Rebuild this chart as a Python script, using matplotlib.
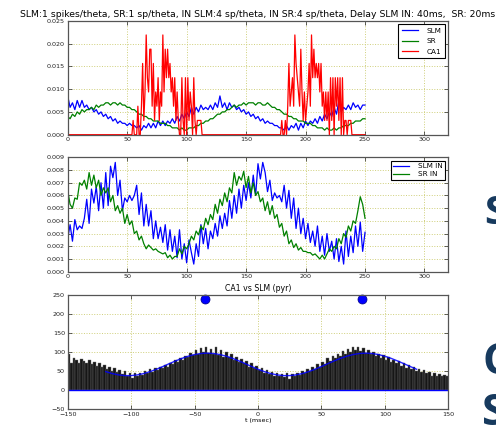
import numpy as np
import matplotlib
matplotlib.use('Agg')
import matplotlib.pyplot as plt

# --- dados (amostras a cada 2 ms, valores em unidades de 0.001) ---
t_top = np.arange(0, 251, 2)

slm = [8.5, 6, 7, 5.5, 7.5, 6, 7.5, 6, 6.5, 5.5,
       6, 5, 5.5, 4.5, 5, 4, 4.5, 3.5, 4, 3,
       3.5, 2.5, 3, 2.5, 2.5, 2, 2.5, 2, 2, 1.5,
       2, 1, 2, 1.5, 2.5, 1.5, 2.5, 1.5, 3, 2,
       3, 2, 3, 2.5, 3.5, 2.5, 4, 3, 4.5, 3.5,
       5, 4, 6, 4.5, 6, 5, 6.5, 5.5, 6, 5.5,
       6.5, 5.5, 7, 6, 8.5, 6, 7, 5.5, 7, 6,
       6.5, 5.5, 6, 5, 5.5, 4.5, 5, 4, 4.5, 3.5,
       4, 3, 3.5, 2.5, 3, 2.5, 2.5, 2, 2, 1.5,
       1.5, 1, 2, 1, 2, 1.5, 2.5, 1, 2.5, 1.5,
       3, 2, 3, 2.5, 3.5, 2.5, 4, 3, 4.5, 3.5,
       5, 4, 6, 4.5, 7.5, 5, 6, 5.5, 6.5, 5.5,
       7, 6, 6.5, 5.5, 6.5, 6.5]

sr = [4, 3.5, 4.5, 4, 5, 4.5, 5.5, 5, 5.5, 5.5,
      6, 5.5, 6.5, 6, 6.5, 6.5, 7, 7, 6.5, 7,
      7, 6.5, 7, 6.5, 6.5, 6, 6, 5.5, 5.5, 5,
      4.5, 4.5, 4, 4, 3.5, 3.5, 3, 3, 3, 2.5,
      2.5, 2.5, 2, 2, 1.5, 1.5, 1.5, 1, 1.5, 1,
      1, 1.5, 1.5, 1.5, 2, 2, 2.5, 2.5, 3, 3,
      3.5, 3.5, 4, 4.5, 4.5, 5, 5, 5.5, 5.5, 6,
      6.5, 6, 6.5, 6.5, 7, 6.5, 7, 7, 7, 6.5,
      7, 7, 6.5, 6.5, 7, 6.5, 6, 6, 5.5, 5.5,
      5, 4.5, 4.5, 4, 4, 3.5, 3.5, 3, 3, 3,
      2.5, 2.5, 2.5, 2, 2, 1.5, 1.5, 1.5, 1, 1.5,
      1, 1, 1.5, 1, 1.5, 1.5, 2, 2, 2, 2.5,
      2.5, 3, 3, 3, 3.5, 3.5]

# CA1: contagem por ms (valor = contagem / 320)
t_ca1 = np.arange(0, 251)
ca1_counts = [0, 0, 0, 0, 0, 0, 0, 0, 0, 0, 0, 0, 0, 0, 0, 0, 0, 0, 0, 0, 0, 0, 0, 0, 0,
              0, 0, 0, 0, 0, 0, 0, 0, 0, 0, 0, 0, 0, 0, 0, 0, 0, 0, 0, 0, 0, 0, 0, 0, 0,
              0, 0, 0, 0, 0, 1, 0, 0, 0, 2, 0, 0, 2, 5, 1, 3, 7, 4, 3, 6, 6, 2, 5, 1, 3,
              2, 4, 1, 3, 2, 7, 3, 6, 4, 6, 4, 5, 3, 4, 2, 4, 1, 3, 1, 0, 0, 4, 1, 0, 4,
              0, 4, 1, 3, 2, 0, 4, 1, 0, 1, 1, 1, 1, 0, 0, 0, 0, 0, 0, 0, 0, 0, 0, 0, 0,
              0, 0, 0, 0, 0, 0, 0, 0, 0, 0, 0, 0, 0, 0, 0, 0, 0, 0, 0, 0, 0, 0, 0, 0, 0,
              0, 0, 0, 0, 0, 0, 0, 0, 0, 0, 0, 0, 0, 0, 0, 0, 0, 0, 0, 0, 0, 0, 0, 0, 0,
              0, 0, 0, 0, 0, 1, 0, 0, 1, 0, 2, 5, 2, 3, 4, 2, 7, 5, 4, 3, 2, 6, 3, 1, 3,
              1, 2, 3, 5, 2, 7, 4, 6, 4, 5, 4, 5, 3, 5, 2, 3, 1, 3, 1, 3, 0, 4, 1, 4, 0,
              4, 2, 4, 1, 4, 0, 4, 0, 1, 1, 0, 1, 1, 1, 0, 0, 0, 0, 0, 0, 0, 0, 0, 0, 0,
              0]

slm_in = [2.6, 3.7, 2.4, 4.1, 3.3, 3.6, 3.4, 4.2, 5.7, 3.8,
          6.5, 5.4, 6.7, 4.8, 7.0, 5.0, 7.8, 5.2, 8.3, 7.4,
          8.6, 6.0, 7.2, 4.8, 5.8, 5.5, 6.0, 5.6, 6.0, 6.8,
          4.5, 6.2, 3.6, 5.3, 3.6, 4.8, 2.6, 4.0, 2.6, 3.5,
          2.3, 3.7, 1.7, 3.3, 1.6, 2.8, 1.1, 3.3, 1.0, 2.2,
          0.7, 2.5, 1.5, 0.6, 2.2, 1.2, 3.7, 2.2, 3.4, 1.8,
          3.2, 2.6, 3.8, 2.8, 4.4, 3.4, 4.6, 3.6, 5.6, 4.2,
          6.0, 4.6, 6.5, 5.0, 6.8, 5.6, 7.0, 5.8, 7.6, 6.0,
          8.5, 7.3, 8.6, 7.8, 6.3, 7.2, 5.6, 6.2, 5.8, 6.0,
          5.5, 6.8, 5.0, 6.4, 4.2, 5.8, 3.4, 5.0, 3.0, 4.2,
          2.6, 3.8, 2.3, 3.2, 2.0, 3.6, 1.6, 2.8, 1.3, 3.0,
          1.6, 2.4, 1.0, 2.6, 0.8, 2.0, 0.6, 3.2, 1.2, 2.8,
          1.5, 3.6, 2.0, 3.9, 1.6, 3.1]

sr_in = [6.4, 5.3, 5.0, 5.8, 5.7, 7.0, 6.8, 7.2, 6.5, 7.8,
         6.8, 7.6, 6.6, 7.2, 6.0, 6.6, 6.2, 6.6, 5.5, 6.0,
         4.8, 5.2, 4.6, 5.0, 3.8, 4.5, 3.7, 4.0, 3.0, 3.2,
         2.5, 2.8, 2.2, 1.8, 2.1, 1.9, 1.7, 1.8, 1.6, 1.5,
         1.4, 1.5, 1.1, 1.3, 1.0, 1.2, 1.2, 1.8, 1.4, 2.0,
         1.8, 2.2, 2.8, 2.5, 3.2, 2.9, 3.6, 3.3, 4.2, 3.7,
         4.5, 4.1, 5.3, 4.6, 5.7, 5.2, 6.2, 5.5, 6.6, 6.2,
         7.8, 6.8, 7.5, 7.2, 7.9, 6.6, 7.5, 6.2, 7.0, 6.0,
         6.3, 5.5, 5.8, 4.8, 5.5, 4.5, 5.2, 4.2, 4.5, 3.5,
         3.8, 2.8, 3.2, 2.2, 2.5, 1.9, 2.2, 1.7, 1.9, 1.6,
         1.6, 1.5, 1.5, 1.3, 1.4, 1.2, 1.0, 1.3, 1.0, 1.4,
         1.8, 1.6, 2.0, 1.8, 2.6, 2.2, 3.0, 2.7, 3.6, 3.2,
         4.0, 3.8, 4.8, 5.9, 5.3, 4.2]

# correlograma CA1 vs SLM (bins de 2 ms)
hist_t = np.arange(-149, 150, 2)
hist_counts = [95, 70, 85, 80, 72, 82, 76, 70, 80, 68,
               75, 64, 72, 60, 66, 55, 62, 50, 58, 48,
               52, 42, 50, 38, 45, 32, 44, 36, 46, 40,
               50, 44, 55, 48, 58, 52, 62, 58, 66, 62,
               72, 68, 80, 74, 85, 80, 90, 86, 98, 92,
               104, 96, 110, 100, 112, 98, 108, 96, 114, 92,
               104, 88, 100, 86, 94, 80, 88, 74, 82, 70,
               76, 62, 70, 58, 64, 52, 58, 46, 52, 42,
               48, 38, 44, 36, 42, 34, 44, 30, 42, 36,
               46, 40, 50, 44, 56, 50, 62, 56, 68, 62,
               74, 68, 84, 76, 90, 84, 96, 90, 102, 94,
               108, 100, 112, 104, 114, 102, 110, 98, 106, 94,
               100, 90, 96, 84, 92, 80, 86, 74, 80, 70,
               76, 64, 70, 58, 66, 56, 60, 50, 56, 48,
               52, 44, 48, 38, 44, 36, 42, 38, 40, 36]

fit_t = np.arange(-120, 126, 5)
fit_v = [48.7, 43.6, 40.1, 38.2, 38.2, 40.1, 43.6, 48.7, 54.9, 62.0,
         69.4, 76.6, 83.3, 89.0, 93.3, 96.1, 97.0, 96.1, 93.3, 89.0,
         83.3, 76.6, 69.4, 62.0, 54.9, 48.7, 43.6, 40.1, 38.2, 38.2,
         40.1, 43.6, 48.7, 54.9, 62.0, 69.4, 76.6, 83.3, 89.0, 93.3,
         96.1, 97.0, 96.1, 93.3, 89.0, 83.3, 76.6, 69.4, 62.0, 54.9]

pico_t = [-42, 82]
pico_y = [240, 240]

titulo = ('SLM:1 spikes/theta, SR:1 sp/theta, IN SLM:4 sp/theta, '
          'IN SR:4 sp/theta, Delay SLM IN: 40ms,  SR: 20ms')

# --- figura ---
fig = plt.figure(figsize=(4.96, 4.26), dpi=100)
fig.patch.set_facecolor('white')

GRID = dict(color='#cfcf7a', linestyle=':', linewidth=0.7)


def estilo(ax):
    ax.grid(True, **GRID)
    ax.set_axisbelow(True)
    ax.tick_params(direction='in', top=True, right=True, labelsize=4.6,
                   length=3, width=0.5, colors='#222222', pad=2)
    for s in ax.spines.values():
        s.set_color('#555555')
        s.set_linewidth(0.9)


ax1 = fig.add_axes([0.1365, 0.6838, 0.7673, 0.2676])
ax1.plot(t_top, np.array(slm) / 1000, color='blue', lw=0.9, label='SLM')
ax1.plot(t_top, np.array(sr) / 1000, color='green', lw=0.9, label='SR')
ax1.plot(t_ca1, np.array(ca1_counts) / 320, color='red', lw=0.9, label='CA1')
ax1.set_xlim(0, 320)
ax1.set_ylim(0, 0.025)
ax1.set_xticks(np.arange(0, 301, 50))
ax1.set_yticks(np.arange(0, 0.0251, 0.005))
ax1.yaxis.set_major_formatter(plt.FormatStrFormatter('%.3f'))
estilo(ax1)
ax1.set_title(titulo, fontsize=6.7, pad=3, x=0.5)
leg = ax1.legend(loc='upper right', fontsize=5.2, fancybox=False,
                 edgecolor='black', handlelength=2.2, borderpad=0.5,
                 labelspacing=0.6, handletextpad=1.2, framealpha=1)
leg.get_frame().set_linewidth(0.8)

ax2 = fig.add_axes([0.1365, 0.3622, 0.7673, 0.2685])
ax2.plot(t_top, np.array(slm_in) / 1000, color='blue', lw=0.9, label='SLM IN')
ax2.plot(t_top, np.array(sr_in) / 1000, color='green', lw=0.9, label='SR IN')
ax2.set_xlim(0, 320)
ax2.set_ylim(0, 0.009)
ax2.set_xticks(np.arange(0, 301, 50))
ax2.set_yticks(np.arange(0, 0.0091, 0.001))
ax2.yaxis.set_major_formatter(plt.FormatStrFormatter('%.3f'))
estilo(ax2)
leg2 = ax2.legend(loc='upper right', fontsize=5.2, fancybox=False,
                  edgecolor='black', handlelength=2.2, borderpad=0.3,
                  labelspacing=0.3, handletextpad=1.2, framealpha=1)
leg2.get_frame().set_linewidth(0.8)

ax3 = fig.add_axes([0.1365, 0.0392, 0.7673, 0.269])
ax3.bar(hist_t, hist_counts, width=2, color='#161616', edgecolor='#6a6a6a',
        linewidth=0.3)
ax3.axhline(0, color='blue', lw=1.0)
ax3.plot(fit_t, fit_v, color='blue', lw=1.0, alpha=0.85)
ax3.plot(pico_t, pico_y, 'o', color='blue', markersize=6.5,
         markeredgecolor='#000080', markeredgewidth=0.5, clip_on=False)
ax3.set_xlim(-150, 150)
ax3.set_ylim(-50, 250)
ax3.set_xticks(np.arange(-150, 151, 50))
ax3.set_yticks(np.arange(-50, 251, 50))
estilo(ax3)
ax3.set_title('CA1 vs SLM (pyr)', fontsize=5.6, pad=3)
ax3.set_xlabel('t (msec)', fontsize=4.6, labelpad=1)

# letras do slide, cortadas na borda direita como no original
for (x, y, s, tam) in [(0.976, 0.50, 'S', 29), (0.972, 0.15, 'C', 31),
                       (0.972, 0.03, 'S', 31)]:
    fig.text(x, y, s, fontsize=tam, fontweight='bold', color='#173a5e',
             family='Open Sans', va='center', ha='left')

fig.savefig('out.png', dpi=100)
